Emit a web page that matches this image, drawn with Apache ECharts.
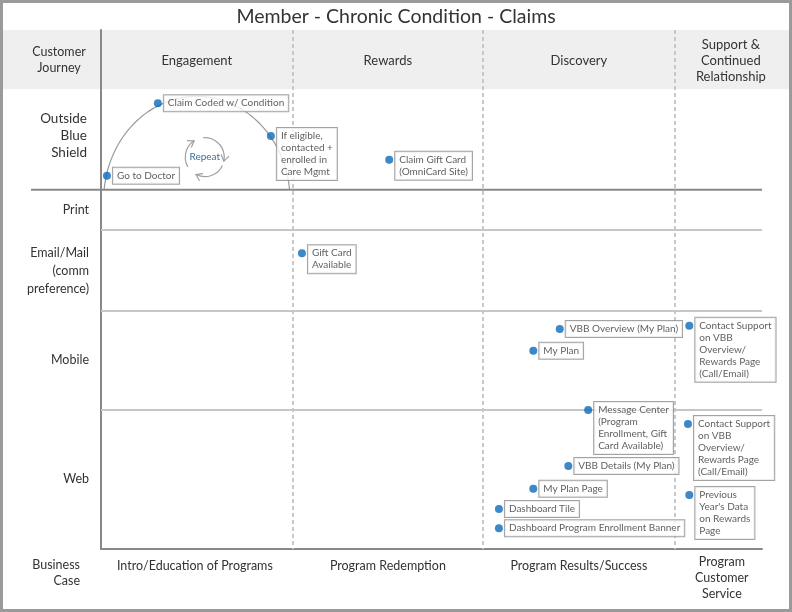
<!DOCTYPE html>
<html><head><meta charset="utf-8">
<script src="https://cdn.jsdelivr.net/npm/echarts@6/dist/echarts.min.js"></script>
<style>html,body{margin:0;padding:0;background:#fff}#c{width:792px;height:612px}</style>
</head><body><div id="c"></div><script>
// ---- data ----
const chartTitle = 'Member - Chronic Condition - Claims';
const stages = ['Engagement', 'Rewards', 'Discovery', 'Support &\nContinued\nRelationship'];
const businessCases = ['Intro/Education of Programs', 'Program Redemption', 'Program Results/Success', 'Program\nCustomer\nService'];
const stageBounds = [0, 29.0, 57.8, 86.8, 100];
const lanes = ['Outside\nBlue\nShield', 'Print', 'Email/Mail\n(comm\npreference)', 'Mobile', 'Web'];
const laneBounds = [11.4, 30.8, 38.5, 54.0, 73.2, 100];
const touchpointNames = [
  'Go to Doctor',
  'Claim Coded w/ Condition',
  'If eligible,\ncontacted +\nenrolled in\nCare Mgmt',
  'Claim Gift Card\n(OmniCard Site)',
  'Gift Card\nAvailable',
  'VBB Overview (My Plan)',
  'My Plan',
  'Contact Support\non VBB\nOverview/\nRewards Page\n(Call/Email)',
  'Message Center\n(Program\nEnrollment, Gift\nCard Available)',
  'Contact Support\non VBB\nOverview/\nRewards Page\n(Call/Email)',
  'VBB Details (My Plan)',
  'My Plan Page',
  'Previous\nYear\'s Data\non Rewards\nPage',
  'Dashboard Tile',
  'Dashboard Program Enrollment Banner'
];
const touchpointX = [0.9, 8.6, 25.7, 43.6, 30.4, 69.4, 65.4, 89.0, 73.7, 88.8, 70.7, 65.4, 89.0, 60.2, 60.2];
const touchpointY = [28.1, 14.1, 20.4, 25.0, 43.0, 57.6, 61.8, 57.0, 73.2, 75.9, 84.0, 88.4, 89.6, 92.3, 96.0];
// journey loop arc: [centerX, centerY, radiusX, radiusY, baseY]
const journeyArc = [14.5, 32.8, 14.1, 20.0, 30.8];
const repeatCenter = [15.7, 24.5];

// ---- chart ----
const FONT = 'Lato, "Open Sans", sans-serif';
const chart = echarts.init(document.getElementById('c'));
const axisLineStyle = { color: '#888', width: 2 };
const option = {
  animation: false,
  backgroundColor: '#fff',
  grid: { left: 101, right: 30, top: 30, bottom: 63 },
  xAxis: { type: 'value', min: 0, max: 100, axisLine: { show: true, onZero: false, lineStyle: axisLineStyle },
           axisTick: { show: false }, axisLabel: { show: false }, splitLine: { show: false } },
  yAxis: { type: 'value', min: 0, max: 100, inverse: true, axisLine: { show: true, onZero: false, lineStyle: axisLineStyle },
           axisTick: { show: false }, axisLabel: { show: false }, splitLine: { show: false } },
  series: [
    {
      type: 'custom', name: 'journey', silent: true, z: 1,
      data: [journeyArc],
      renderItem: function (params, api) {
        const c = api.coord([api.value(0), api.value(1)]);
        const sz = api.size([api.value(2), api.value(3)]);
        const rx = sz[0], ry = sz[1];
        const base = api.coord([0, api.value(4)])[1];
        const s = Math.max(-1, Math.min(1, (base - c[1]) / ry));
        const t0 = Math.PI - Math.asin(s), t1 = 2 * Math.PI + Math.asin(s);
        const pts = [];
        const N = 80;
        for (let k = 0; k <= N; k++) {
          const t = t0 + (t1 - t0) * k / N;
          pts.push([c[0] + rx * Math.cos(t), c[1] + ry * Math.sin(t)]);
        }
        return { type: 'polyline', shape: { points: pts }, style: { stroke: '#9a9a9a', fill: null, lineWidth: 1.2 } };
      },
      markLine: {
        silent: true, symbol: 'none', label: { show: false },
        data: stageBounds.slice(1, -1).map(v => ({ xAxis: v, lineStyle: { type: [4, 3], color: '#c8c8c8', width: 2 } }))
          .concat(laneBounds.slice(2, -1).map(v => ({ yAxis: v, lineStyle: { type: 'solid', color: '#c6c6c6', width: 2 } })))
      }
    },
    {
      type: 'scatter', name: 'touchpoints', symbolSize: 8, z: 5,
      itemStyle: { color: '#0d6ab8' },
      data: touchpointX.map((x, i) => [x, touchpointY[i], touchpointNames[i]]),
      label: {
        show: true, position: [10, -4], align: 'left', verticalAlign: 'top',
        formatter: p => p.value[2],
        fontFamily: FONT, fontSize: 10, lineHeight: 12, color: '#363636',
        backgroundColor: '#fff', borderColor: '#8c8c8c', borderWidth: 1, padding: [2, 4, 2, 4]
      }
    }
  ]
};
chart.setOption(option);

const px = (x, y) => chart.convertToPixel({ gridIndex: 0 }, [x, y]);
const g = [];
const leftTop = px(0, 0), rightBottom = px(100, 100);
// header band
const bandBottom = px(0, laneBounds[0])[1];
g.push({ type: 'rect', z: -10, shape: { x: 3, y: leftTop[1], width: 786, height: bandBottom - leftTop[1] }, style: { fill: '#efefef' } });
// outer frame
g.push({ type: 'rect', z: 20, shape: { x: 1.5, y: 1.5, width: 789, height: 609 }, style: { fill: null, stroke: '#9a9a9a', lineWidth: 3 } });
// title
g.push({ type: 'text', z: 20, x: 396, y: 17, style: { text: chartTitle, font: '19.5px ' + FONT, fill: '#333', align: 'center', verticalAlign: 'middle' } });
// thick lane separator below Outside Blue Shield
const sepY = px(0, laneBounds[1])[1];
g.push({ type: 'line', z: 3, shape: { x1: 31, y1: sepY, x2: rightBottom[0], y2: sepY }, style: { stroke: '#888', lineWidth: 2 } });
// Customer Journey header
g.push({ type: 'text', z: 20, x: 59, y: (leftTop[1] + bandBottom) / 2, style: { text: 'Customer\nJourney', font: '12.5px ' + FONT, lineHeight: 16, fill: '#333', align: 'center', verticalAlign: 'middle' } });
// stage headers
stages.forEach((s, i) => {
  const x0 = px(stageBounds[i], 0)[0];
  const x1 = i === stages.length - 1 ? 787 : px(stageBounds[i + 1], 0)[0];
  g.push({ type: 'text', z: 20, x: (x0 + x1) / 2, y: (leftTop[1] + bandBottom) / 2 + 1,
           style: { text: s, font: '13px ' + FONT, lineHeight: 16, fill: '#333', align: 'center', verticalAlign: 'middle' } });
});
// business case row
const bcY = rightBottom[1] + 24;
g.push({ type: 'text', z: 20, x: 80, y: bcY, style: { text: 'Business\nCase', font: '12.5px ' + FONT, lineHeight: 16, fill: '#333', align: 'right', verticalAlign: 'middle' } });
businessCases.forEach((s, i) => {
  const x0 = px(stageBounds[i], 0)[0];
  const x1 = i === businessCases.length - 1 ? 769 : px(stageBounds[i + 1], 0)[0];
  const multi = s.indexOf('\n') >= 0;
  g.push({ type: 'text', z: 20, x: (x0 + x1) / 2 - (i === 0 ? 2 : 0), y: multi ? bcY + 5 : rightBottom[1] + 17,
           style: { text: s, font: '12.5px ' + FONT, lineHeight: 16, fill: '#333', align: 'center', verticalAlign: 'middle' } });
});
// lane labels
lanes.forEach((s, i) => {
  const yc = px(0, (laneBounds[i] + laneBounds[i + 1]) / 2)[1];
  const big = i === 0;
  g.push({ type: 'text', z: 20, x: big ? 87 : 89, y: yc - (big ? 4 : 0) + (i === 2 ? 1 : 0),
           style: { text: s, font: (big ? '13.5px ' : '12.5px ') + FONT, lineHeight: big ? 17 : 18, fill: '#333', align: 'right', verticalAlign: 'middle' } });
});
// repeat cycle icon
const rc = px(repeatCenter[0], repeatCenter[1]);
const R = 19.5;
const arcs = [[150, 237], [265, 372], [25, 117]];
arcs.forEach(([a0, a1]) => {
  const s = a0 * Math.PI / 180, e = a1 * Math.PI / 180;
  g.push({ type: 'arc', z: 4, shape: { cx: rc[0], cy: rc[1], r: R, startAngle: s, endAngle: e, clockwise: true },
           style: { stroke: '#a0a0a0', fill: null, lineWidth: 1.2 } });
  const P = [rc[0] + R * Math.cos(e), rc[1] + R * Math.sin(e)];
  const d = [-Math.sin(e), Math.cos(e)], n = [Math.cos(e), Math.sin(e)];
  g.push({ type: 'polyline', z: 4, shape: { points: [
      [P[0] - 6 * d[0] + 4 * n[0], P[1] - 6 * d[1] + 4 * n[1]], P,
      [P[0] - 6 * d[0] - 4 * n[0], P[1] - 6 * d[1] - 4 * n[1]]] },
    style: { stroke: '#a0a0a0', fill: null, lineWidth: 1.2 } });
});
g.push({ type: 'text', z: 4, x: rc[0], y: rc[1], style: { text: 'Repeat', font: '10px ' + FONT, fill: '#3d6f9c', align: 'center', verticalAlign: 'middle' } });

chart.setOption({ graphic: { elements: g } });
</script></body></html>
